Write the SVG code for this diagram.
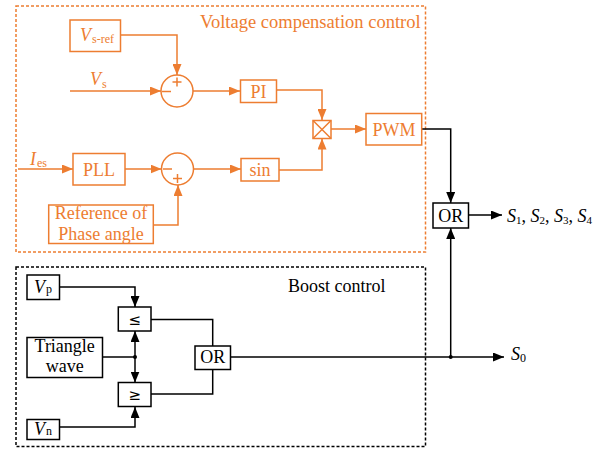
<svg xmlns="http://www.w3.org/2000/svg" width="596" height="449" viewBox="0 0 596 449">
<style>
  .o { stroke: #ED7D31; fill: none; stroke-width: 1.5; }
  .k { stroke: #000; fill: none; stroke-width: 1.5; }
  .ob { stroke: #ED7D31; fill: #fff; stroke-width: 1.5; }
  .kb { stroke: #000; fill: #fff; stroke-width: 1.5; }
  text { font-family: "Liberation Serif", "Times New Roman", serif; font-size: 18px; }
  .to { fill: #ED7D31; }
  .tk { fill: #000; }
  .it { font-style: italic; }
  .sub { font-size: 12px; }
  .c { text-anchor: middle; }
</style>
<defs>
  <marker id="ao" markerUnits="userSpaceOnUse" markerWidth="11" markerHeight="9" refX="11" refY="4.5" orient="auto">
    <path d="M0,0 L11,4.5 L0,9 z" fill="#ED7D31"/>
  </marker>
  <marker id="ak" markerUnits="userSpaceOnUse" markerWidth="11" markerHeight="9" refX="11" refY="4.5" orient="auto">
    <path d="M0,0 L11,4.5 L0,9 z" fill="#000"/>
  </marker>
</defs>
<rect width="596" height="449" fill="#fff"/>

<g id="voltage-compensation-frame">
  <rect x="16" y="6" width="409.5" height="246" fill="none" stroke="#ED7D31" stroke-width="1.5" stroke-dasharray="3 2"/>
  <text class="to" x="200" y="28" style="font-size:18.5px">Voltage compensation control</text>
</g>
<g id="boost-frame">
  <rect x="16" y="267" width="409.5" height="179.5" fill="none" stroke="#000" stroke-width="1.5" stroke-dasharray="3 2"/>
  <text class="tk" x="288" y="292">Boost control</text>
</g>

<g id="connectors">
  <polyline class="o" points="120,35 177,35 177,75" marker-end="url(#ao)"/>
  <line class="o" x1="70" y1="91" x2="161" y2="91" marker-end="url(#ao)"/>
  <line class="o" x1="193" y1="91" x2="240" y2="91" marker-end="url(#ao)"/>
  <polyline class="o" points="276.5,90 322,90 322,120" marker-end="url(#ao)"/>
  <line class="o" x1="331" y1="129" x2="366" y2="129" marker-end="url(#ao)"/>
  <line class="o" x1="18" y1="169" x2="73" y2="169" marker-end="url(#ao)"/>
  <line class="o" x1="125" y1="169" x2="161.5" y2="169" marker-end="url(#ao)"/>
  <line class="o" x1="193.5" y1="169" x2="241" y2="169" marker-end="url(#ao)"/>
  <polyline class="o" points="279,170 322,170 322,138.5" marker-end="url(#ao)"/>
  <polyline class="o" points="153.5,225 178,225 178,185" marker-end="url(#ao)"/>
  <polyline class="k" points="422,129 450.7,129 450.7,203" marker-end="url(#ak)"/>
  <line class="k" x1="468.5" y1="215" x2="502" y2="215" marker-end="url(#ak)"/>
  <line class="k" x1="450.7" y1="357" x2="450.7" y2="228" marker-end="url(#ak)"/>
  <polyline class="k" points="59.5,287 135,287 135,307" marker-end="url(#ak)"/>
  <line class="k" x1="102.5" y1="357" x2="135" y2="357"/>
  <line class="k" x1="135" y1="357" x2="135" y2="331" marker-end="url(#ak)"/>
  <line class="k" x1="135" y1="357" x2="135" y2="382.5" marker-end="url(#ak)"/>
  <polyline class="k" points="59.5,427 135,427 135,407" marker-end="url(#ak)"/>
  <polyline class="k" points="151,319.5 212.7,319.5 212.7,346"/>
  <polyline class="k" points="151,394 212.7,394 212.7,369.5"/>
  <line class="k" x1="230.5" y1="357" x2="504" y2="357" marker-end="url(#ak)"/>
  <circle cx="135" cy="357" r="2" fill="#000"/>
  <circle cx="450.7" cy="357" r="2" fill="#000"/>
</g>

<g id="vs-ref">
  <rect class="ob" x="70" y="20" width="50.5" height="31.5"/>
  <text class="to" x="80" y="41"><tspan class="it">V</tspan><tspan class="sub" dx="1" dy="2">s-ref</tspan></text>
</g>
<g id="vs-label">
  <text class="to" x="90" y="85"><tspan class="it">V</tspan><tspan class="sub" dx="1" dy="3">s</tspan></text>
</g>
<g id="sum1">
  <circle class="ob" cx="177" cy="91" r="16"/>
  <line class="o" x1="172.5" y1="82" x2="181.5" y2="82" stroke-width="1"/>
  <line class="o" x1="177" y1="77.5" x2="177" y2="86.5" stroke-width="1"/>
  <line class="o" x1="162" y1="91.5" x2="171" y2="91.5" stroke-width="1"/>
</g>
<g id="pi">
  <rect class="ob" x="240.5" y="80" width="36" height="22.5"/>
  <text class="to c" x="258.5" y="98">PI</text>
</g>
<g id="multiplier">
  <rect class="ob" x="313" y="120.5" width="18" height="18"/>
  <path class="o" d="M313,120.5 L331,138.5 M331,120.5 L313,138.5" stroke-width="1.2"/>
</g>
<g id="pwm">
  <rect class="ob" x="366" y="113.5" width="55.7" height="31.5"/>
  <text class="to c" x="394" y="136">PWM</text>
</g>
<g id="ies-label">
  <text class="to" x="30" y="165"><tspan class="it">I</tspan><tspan class="sub" dx="1" dy="2">es</tspan></text>
</g>
<g id="pll">
  <rect class="ob" x="73" y="153.5" width="52" height="31.5"/>
  <text class="to c" x="99" y="176">PLL</text>
</g>
<g id="sum2">
  <circle class="ob" cx="177.5" cy="169" r="16"/>
  <line class="o" x1="163" y1="169" x2="172" y2="169" stroke-width="1"/>
  <line class="o" x1="173" y1="178.5" x2="182" y2="178.5" stroke-width="1"/>
  <line class="o" x1="177.5" y1="174" x2="177.5" y2="183" stroke-width="1"/>
</g>
<g id="sin">
  <rect class="ob" x="241" y="158.5" width="38" height="22.5"/>
  <text class="to c" x="260" y="175.5">sin</text>
</g>
<g id="ref-phase">
  <rect class="ob" x="48.7" y="205" width="104.6" height="38.5"/>
  <text class="to c" x="101" y="219">Reference of</text>
  <text class="to c" x="101" y="240">Phase angle</text>
</g>

<g id="or-top">
  <rect class="kb" x="433" y="203" width="35.5" height="25"/>
  <text class="tk c" x="450.7" y="221.5">OR</text>
</g>
<g id="s-out">
  <text class="tk" x="507" y="221.5"><tspan class="it">S</tspan><tspan style="font-size:11px" dy="2">1</tspan><tspan dy="-2">, </tspan><tspan class="it">S</tspan><tspan style="font-size:11px" dy="2">2</tspan><tspan dy="-2">, </tspan><tspan class="it">S</tspan><tspan style="font-size:11px" dy="2">3</tspan><tspan dy="-2">, </tspan><tspan class="it">S</tspan><tspan style="font-size:11px" dy="2">4</tspan></text>
</g>

<g id="vp">
  <rect class="kb" x="27" y="275" width="32.5" height="24.5"/>
  <text class="tk" x="34" y="293"><tspan class="it">V</tspan><tspan class="sub" dx="1">p</tspan></text>
</g>
<g id="le">
  <rect class="kb" x="118.3" y="307" width="32.7" height="24"/>
  <text class="tk c" x="134.7" y="325" style="font-family:'DejaVu Sans',sans-serif;font-size:15px">≤</text>
</g>
<g id="triangle">
  <rect class="kb" x="27" y="337.5" width="75.5" height="40"/>
  <text class="tk c" x="64.7" y="352">Triangle</text>
  <text class="tk c" x="64.7" y="372">wave</text>
</g>
<g id="ge">
  <rect class="kb" x="118.3" y="382.5" width="32.7" height="24"/>
  <text class="tk c" x="134.7" y="400" style="font-family:'DejaVu Sans',sans-serif;font-size:15px">≥</text>
</g>
<g id="vn">
  <rect class="kb" x="27" y="419.5" width="32.5" height="20"/>
  <text class="tk" x="34" y="435"><tspan class="it">V</tspan><tspan class="sub" dx="1">n</tspan></text>
</g>
<g id="or-boost">
  <rect class="kb" x="195" y="346" width="35.5" height="23.5"/>
  <text class="tk c" x="212.7" y="363">OR</text>
</g>
<g id="s0">
  <text class="tk" x="511" y="360"><tspan class="it">S</tspan><tspan class="sub" dy="2">0</tspan></text>
</g>
</svg>
